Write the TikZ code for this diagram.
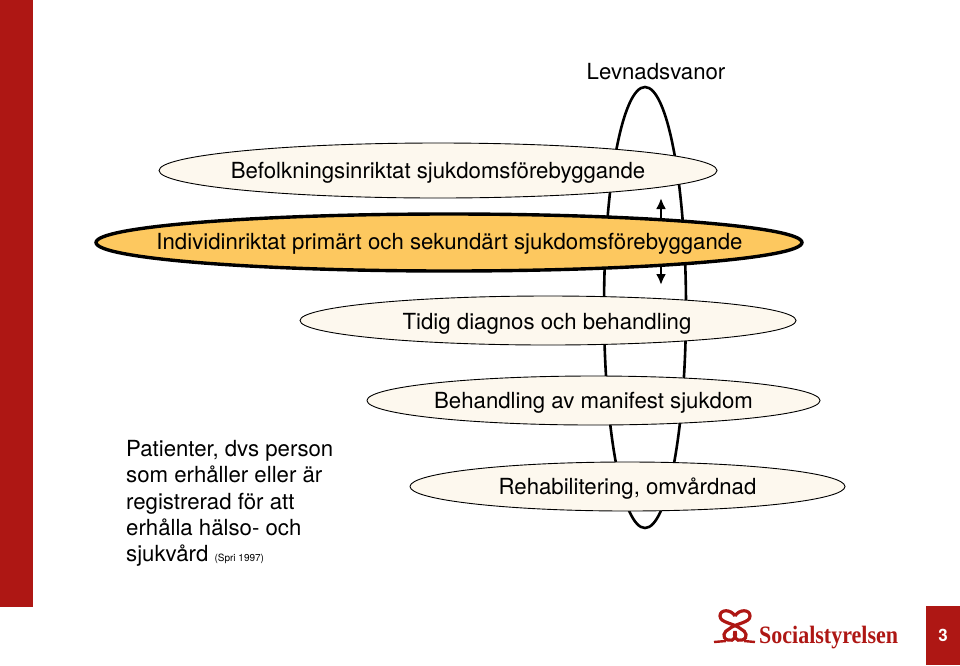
\documentclass[tikz,border=0pt]{standalone}
\usepackage{xcolor}
\usepackage{fontspec}
\setmainfont{TeX Gyre Heros}
\newfontfamily\logofont{Liberation Serif}
\usetikzlibrary{arrows.meta, shapes.geometric}
\definecolor{socred}{HTML}{AE1714}
\definecolor{cream}{HTML}{FDF8EE}
\definecolor{gold}{HTML}{FDC85F}
\tikzset{
    level/.style={draw, ellipse, fill=cream, line width=0.9pt, inner sep=0pt},
    caption/.style={inner sep=0pt, font=\fontsize{22.2}{26.4}\selectfont},
    knot/.style={socred, line width=3.2pt},
}
\begin{document}
\begin{tikzpicture}[x=1pt, y=-1pt]
    \useasboundingbox (0, 0) rectangle (960, 665);
    \fill[socred] (0, 0) rectangle (33, 607);
    \node[fill=socred, minimum width=34pt, minimum height=59pt, inner sep=0pt, anchor=north west, text=white, font=\fontsize{17}{20}\selectfont\bfseries] at (926, 606) (page) {3};

    \node[draw, ellipse, line width=2.6pt, minimum width=82pt, minimum height=441pt, inner sep=0pt] at (645, 307.5) (habits) {};
    \node[caption] at (656, 72) (habitslabel) {Levnadsvanor};

    \coordinate (up) at (661, 198);
    \coordinate (down) at (661, 285);
    \draw[{Latex[length=11pt,width=10pt]}-{Latex[length=11pt,width=10pt]}, line width=2.4pt] (up) -- (down);

    \node[level, minimum width=558pt, minimum height=55pt] at (438, 170.5) (population) {};
    \node[caption] at (438, 172.5) {Befolkningsinriktat sjukdomsförebyggande};
    \node[level, fill=gold, line width=3.4pt, minimum width=706pt, minimum height=57pt] at (449, 242.5) (individual) {};
    \node[caption] at (449.5, 244) {Individinriktat primärt och sekundärt sjukdomsförebyggande};
    \node[level, minimum width=496pt, minimum height=49pt] at (548, 320.5) (diagnosis) {};
    \node[caption] at (547, 323.5) {Tidig diagnos och behandling};
    \node[level, minimum width=453pt, minimum height=49pt] at (593.5, 400.5) (treatment) {};
    \node[caption] at (593.5, 403) {Behandling av manifest sjukdom};
    \node[level, minimum width=435pt, minimum height=49pt] at (627.5, 486.5) (rehab) {};
    \node[caption] at (627.5, 489) {Rehabilitering, omvårdnad};

    \node[caption, anchor=north west, align=left] at (126, 440) (patients) {Patienter, dvs person\\som erhåller eller är\\registrerad för att\\erhålla hälso- och\\sjukvård {\fontsize{10}{12}\selectfont (Spri 1997)}};

    % logo
    \node[anchor=base west, inner sep=0pt, text=socred, xscale=0.88, transform shape, font=\logofont\fontsize{25}{30}\selectfont\bfseries] at (759, 643) (logo) {Socialstyrelsen};
    \draw[knot] (735, 616) .. controls (731, 609) and (720, 609) .. (720, 616) .. controls (720, 623) and (734, 623) .. (741, 629) .. controls (746, 631) and (749, 638) .. (742, 640) .. controls (736, 642) and (733, 636) .. (735, 631);
    \draw[knot] (735, 616) .. controls (739, 609) and (750, 609) .. (750, 616) .. controls (750, 623) and (736, 623) .. (729, 629) .. controls (724, 631) and (721, 638) .. (728, 640) .. controls (734, 642) and (737, 636) .. (735, 631);
    \draw[knot, line width=2.4pt] (714, 642) -- (726, 641);
    \draw[knot, line width=2.4pt] (744, 641) -- (755, 642);
\end{tikzpicture}
\end{document}
